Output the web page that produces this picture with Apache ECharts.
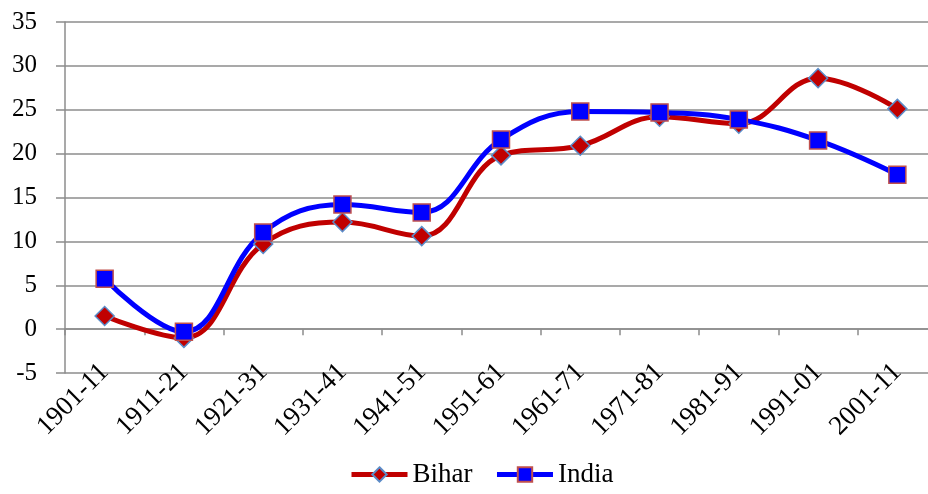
<!DOCTYPE html>
<html>
<head>
<meta charset="utf-8">
<script src="https://cdn.jsdelivr.net/npm/echarts@6/dist/echarts.min.js"></script>
<style>
  html, body { margin: 0; padding: 0; background: #fff; }
  #container { width: 928px; height: 494px; }
</style>
</head>
<body>
<div id="container"></div>
<script>
  var dom = document.getElementById("container");
  var myChart = echarts.init(dom);

  // decades
  var categories = ['1901-11', '1911-21', '1921-31', '1931-41', '1941-51', '1951-61',
      '1961-71', '1971-81', '1981-91', '1991-01', '2001-11'];
  // decadal growth rate (%)
  var biharData = [1.5, -1.0, 9.7, 12.2, 10.6, 19.8, 20.9, 24.2, 23.4, 28.6, 25.1];
  var indiaData = [5.75, -0.3, 11.0, 14.2, 13.3, 21.6, 24.8, 24.7, 23.9, 21.5, 17.6];

  var fontFam = '"Liberation Serif", "DejaVu Serif", serif';
  var gridGray = '#8c8c8c';

  var option = {
      animation: false,
      backgroundColor: '#fff',
      grid: {
          left: 65,
          width: 872, // plot runs a little past the right edge, like the original
          top: 22,
          bottom: 121,
          outerBoundsMode: 'none'
      },
      legend: {
          bottom: 1,
          left: 344,
          itemWidth: 56,
          itemHeight: 18,
          itemGap: 22,
          lineStyle: { width: 5 },
          textStyle: {
              fontFamily: fontFam,
              fontSize: 27,
              color: '#000'
          },
          data: ['Bihar', 'India']
      },
      xAxis: [{
              // labels along the bottom
              type: 'category',
              data: categories,
              position: 'bottom',
              axisLine: { show: false, onZero: false },
              axisTick: { show: false },
              axisLabel: {
                  rotate: 45,
                  margin: -5,
                  interval: 0,
                  fontFamily: fontFam,
                  fontSize: 27,
                  color: '#000'
              }
          },
          {
              // the zero line with its ticks
              type: 'category',
              data: categories,
              position: 'bottom',
              axisLine: {
                  show: true,
                  onZero: true,
                  onZeroAxisIndex: 0,
                  lineStyle: { color: gridGray, width: 1.5 }
              },
              axisTick: {
                  show: true,
                  length: 6,
                  lineStyle: { color: gridGray, width: 1.5 }
              },
              axisLabel: { show: false }
          }
      ],
      yAxis: {
          type: 'value',
          min: -5,
          max: 35,
          interval: 5,
          axisLine: {
              show: true,
              lineStyle: { color: gridGray, width: 1.5 }
          },
          axisTick: {
              show: true,
              length: 9,
              lineStyle: { color: gridGray, width: 1.5 }
          },
          splitLine: {
              lineStyle: { color: gridGray, width: 1.5 }
          },
          axisLabel: {
              margin: 28,
              fontFamily: fontFam,
              fontSize: 25,
              color: '#000'
          }
      },
      series: [{
              name: 'Bihar',
              type: 'line',
              xAxisIndex: 0,
              data: biharData,
              smooth: 0.4,
              symbol: 'diamond',
              symbolSize: 19,
              lineStyle: { color: '#c00000', width: 5 },
              itemStyle: {
                  color: '#c00000',
                  borderColor: '#5b8cc8',
                  borderWidth: 1.5
              }
          },
          {
              name: 'India',
              type: 'line',
              xAxisIndex: 0,
              data: indiaData,
              smooth: 0.4,
              symbol: 'rect',
              symbolSize: 17,
              lineStyle: { color: '#0000ff', width: 5 },
              itemStyle: {
                  color: '#0000ff',
                  borderColor: '#c0504d',
                  borderWidth: 1.5
              }
          }
      ]
  };

  if (option && typeof option === "object") {
      myChart.setOption(option, true);
  }
</script>
</body>
</html>
